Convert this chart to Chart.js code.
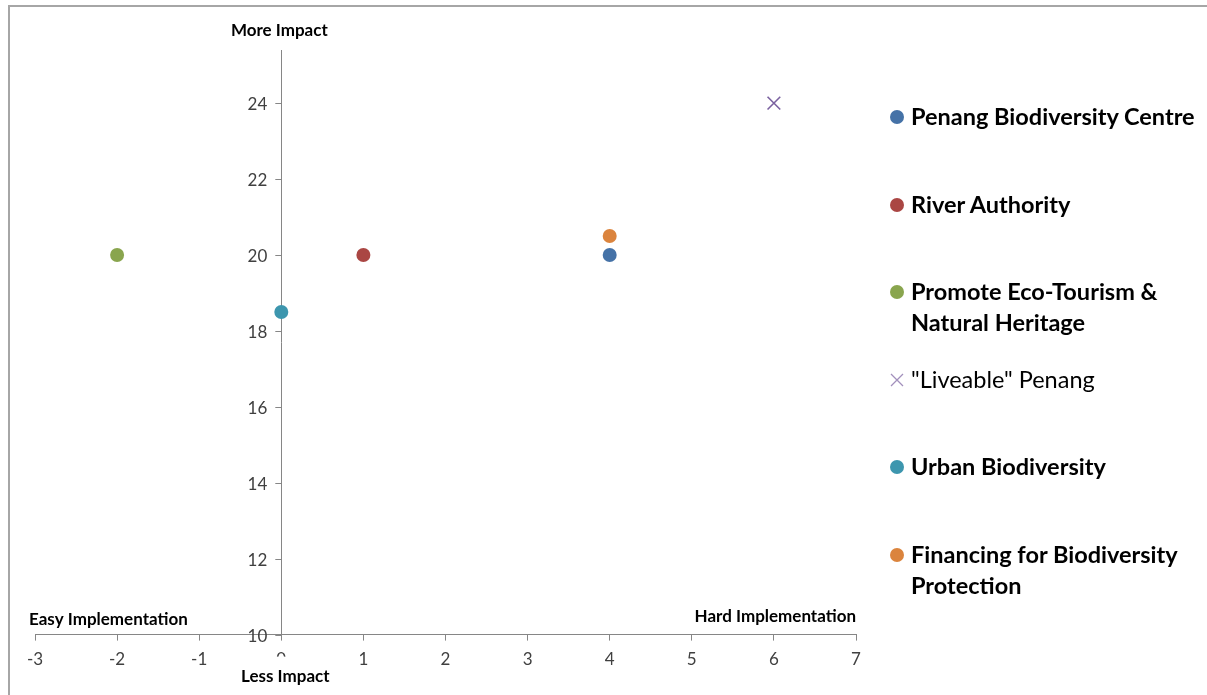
<!DOCTYPE html>
<html>
<head>
<meta charset="utf-8">
<script src="https://cdn.jsdelivr.net/npm/chart.js@4/dist/chart.umd.min.js"></script>
<style>
  body { margin: 0; background: #fff; }
  #wrap { position: relative; width: 1207px; height: 695px; overflow: hidden; }
  #frame { position: absolute; left: 8px; top: 5px; width: 1300px; height: 800px; border-left: 2px solid #a6a6a6; border-top: 2px solid #a6a6a6; }
  #chartbox { position: absolute; left: 0; top: 0; width: 1207px; height: 695px; }
  #legend { position: absolute; left: 0; top: 0; font-family: Lato, "Open Sans", sans-serif; }
  .item { position: absolute; left: 890px; font-size: 23.5px; line-height: 31px; color: #000; width: 320px; }
  .item .mk { position: absolute; left: 0; top: 9px; width: 14px; height: 14px; border-radius: 50%; }
  .item .mk svg { display: block; }
  .item .tx { margin-left: 21px; display: block; }
</style>
</head>
<body>
<div id="wrap">
  <div id="frame"></div>
  <div id="chartbox"><canvas id="chart"></canvas></div>
  <div id="legend"></div>
</div>
<script>
// data
const seriesNames = ['Penang Biodiversity Centre', 'River Authority', 'Promote Eco-Tourism & Natural Heritage', '"Liveable" Penang', 'Urban Biodiversity', 'Financing for Biodiversity Protection'];
const legendLines = [['Penang Biodiversity Centre'], ['River Authority'], ['Promote Eco-Tourism &', 'Natural Heritage'], ['"Liveable" Penang'], ['Urban Biodiversity'], ['Financing for Biodiversity', 'Protection']];
const xValues = [4, 1, -2, 6, 0, 4];
const yValues = [20, 20, 20, 24, 18.5, 20.5];
const colors = ['#4572a7', '#aa4643', '#89a54e', '#7b62a0', '#3d96ae', '#db843d'];
const markers = ['circle', 'circle', 'circle', 'crossRot', 'circle', 'circle'];
const boldLegend = [true, true, true, false, true, true];
const yTicks = [10, 12, 14, 16, 18, 20, 22, 24];

const datasets = seriesNames.map((name, i) => ({
    label: name,
    data: [{ x: xValues[i], y: yValues[i] }],
    backgroundColor: colors[i],
    borderColor: colors[i],
    pointStyle: markers[i],
    pointRadius: markers[i] === 'crossRot' ? 9 : 7,
    pointBorderWidth: markers[i] === 'crossRot' ? 1.6 : 0,
    pointHoverRadius: 7
}));

const axisGray = '#868686';
const fontFam = 'Lato, "Open Sans", sans-serif';
const tickFont = { family: fontFam, size: 17 };

// y tick labels + corner labels drawn from scale positions
const cornerLabels = {
    id: 'cornerLabels',
    afterDraw(c) {
        const ctx = c.ctx;
        const xs = c.scales.x, ys = c.scales.y;
        const x0 = xs.getPixelForValue(0);
        ctx.save();
        // y ticks at the x = 0 axis
        ctx.strokeStyle = axisGray;
        ctx.lineWidth = 1;
        ctx.font = '17px ' + fontFam;
        ctx.fillStyle = '#404040';
        ctx.textAlign = 'right';
        ctx.textBaseline = 'middle';
        yTicks.forEach(v => {
            const py = Math.round(ys.getPixelForValue(v)) + 0.5;
            ctx.beginPath();
            ctx.moveTo(x0 - 6, py);
            ctx.lineTo(x0, py);
            ctx.stroke();
            ctx.fillText(String(v), x0 - 14, py + 1);
        });
        // white box like the text box that hides part of the 0 label
        ctx.fillStyle = '#fff';
        ctx.fillRect(x0 - 50, ys.bottom + 22, 110, 40);
        ctx.font = 'bold 17px ' + fontFam;
        ctx.fillStyle = '#000';
        ctx.textAlign = 'center';
        ctx.fillText('More Impact', x0 - 2, ys.top - 19);
        ctx.fillText('Less Impact', x0 + 4, ys.bottom + 42);
        ctx.textAlign = 'left';
        ctx.fillText('Easy Implementation', xs.left - 6, ys.bottom - 15);
        ctx.textAlign = 'right';
        ctx.fillText('Hard Implementation', xs.right, ys.bottom - 18);
        ctx.restore();
    }
};

new Chart(document.querySelector('#chart'), {
    type: 'scatter',
    data: { datasets: datasets },
    options: {
        responsive: true,
        maintainAspectRatio: false,
        animation: false,
        layout: { padding: { left: 35, right: 351, top: 50, bottom: 16 } },
        plugins: { legend: { display: false }, tooltip: { enabled: false } },
        scales: {
            x: {
                type: 'linear',
                min: -3, max: 7,
                position: 'bottom',
                ticks: { stepSize: 1, font: tickFont, color: '#404040', padding: 9 },
                grid: { drawOnChartArea: false, drawTicks: true, tickLength: 6, color: axisGray },
                border: { color: axisGray, width: 1 }
            },
            y: {
                type: 'linear',
                min: 10, max: 25.4,
                position: { x: 0 },
                afterBuildTicks: (s) => { s.ticks = yTicks.map(v => ({ value: v })); },
                ticks: { display: false },
                grid: { drawOnChartArea: false, drawTicks: false },
                border: { color: axisGray, width: 1 }
            }
        }
    },
    plugins: [cornerLabels]
});

// legend on the right, wrapped as in the picture
const legend = document.querySelector('#legend');
legendLines.forEach((lines, i) => {
    const item = document.createElement('div');
    item.className = 'item';
    item.style.top = (101 + i * 87.6) + 'px';
    item.style.fontWeight = boldLegend[i] ? 'bold' : 'normal';
    const mk = document.createElement('span');
    mk.className = 'mk';
    if (markers[i] === 'crossRot') {
        mk.style.borderRadius = '0';
        mk.innerHTML = '<svg width="14" height="14"><path d="M1 1L13 13M13 1L1 13" stroke="' + colors[i] + '" stroke-width="1.3" opacity="0.7"/></svg>';
    } else {
        mk.style.background = colors[i];
    }
    const tx = document.createElement('span');
    tx.className = 'tx';
    tx.innerHTML = lines.map(l => l.replace(/&/g, '&amp;')).join('<br>');
    item.appendChild(mk);
    item.appendChild(tx);
    legend.appendChild(item);
});
</script>
</body>
</html>
